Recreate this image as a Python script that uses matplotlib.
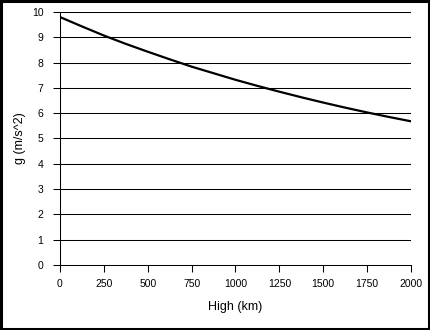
import matplotlib
matplotlib.use('Agg')
import matplotlib.pyplot as plt
from matplotlib.patches import Rectangle

# Height (km) and gravity (m/s^2)
heights = [0, 125, 250, 375, 500, 625, 750, 875, 1000,
           1125, 1250, 1375, 1500, 1625, 1750, 1875, 2000]
g_values = [9.80, 9.43, 9.07, 8.74, 8.43, 8.13, 7.84, 7.58, 7.32,
            7.08, 6.85, 6.63, 6.42, 6.22, 6.03, 5.85, 5.68]
x_ticks = [0, 250, 500, 750, 1000, 1250, 1500, 1750, 2000]
y_ticks = list(range(0, 11))

plt.rcParams['font.family'] = ['Liberation Sans', 'DejaVu Sans']
plt.rcParams['font.size'] = 7.5

W, H = 431, 330
fig = plt.figure(figsize=(W/100.0, H/100.0), dpi=100, facecolor='white')

# plot area in pixels: x 60..411, y 12..265
ax = fig.add_axes([60.0/W, 1-265.0/H, 351.0/W, 253.0/H])
ax.set_xlim(0, 2000)
ax.set_ylim(0, 10)

for y in y_ticks[1:]:
    ax.axhline(y, color='black', linewidth=0.75, zorder=1)

ax.plot(heights, g_values, color='black', linewidth=1.6, zorder=5)

ax.spines['top'].set_visible(False)
ax.spines['right'].set_visible(False)
ax.spines['left'].set_linewidth(0.75)
ax.spines['bottom'].set_linewidth(0.75)

ax.set_xticks(x_ticks)
ax.set_yticks(y_ticks)
ax.tick_params(direction='out', length=5, width=0.75, labelsize=7.5)
ax.tick_params(axis='x', pad=5)
ax.tick_params(axis='y', pad=7)

ax.set_xlabel('High (km)', fontsize=9, labelpad=9)
ax.set_ylabel('g (m/s^2)', fontsize=9, labelpad=4)

# outer frame
fig.patches.append(Rectangle((0.002, 0.003), 0.994, 0.994, transform=fig.transFigure,
                             fill=False, edgecolor='black', linewidth=2.2))

fig.savefig('out.png', dpi=100)
